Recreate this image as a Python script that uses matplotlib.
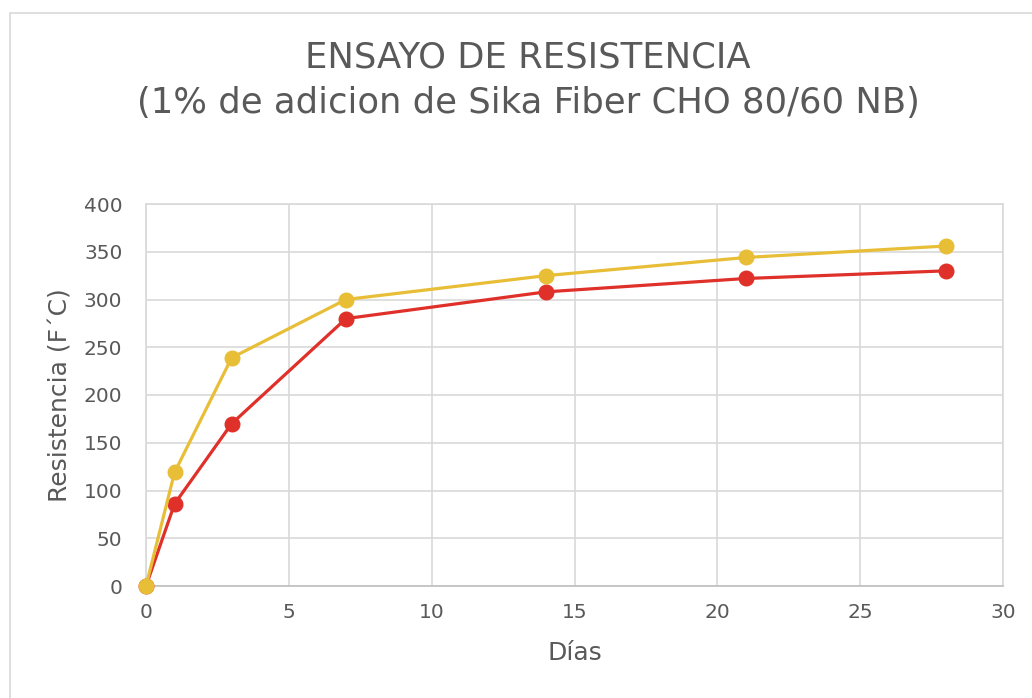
import matplotlib.pyplot as plt
from matplotlib.patches import Rectangle

plt.rcParams['font.family'] = ['DejaVu Sans']

dias = [0, 1, 3, 7, 14, 21, 28]
resistencia_a = [0, 119, 239, 300, 325, 344, 356]
resistencia_b = [0, 86, 170, 280, 308, 322, 330]

gris = '#595959'

fig = plt.figure(figsize=(10.32, 6.98), dpi=100)
ax = fig.add_axes([146/1032, 1 - 586/698, (1003-146)/1032, (586-204)/698])

# marco exterior del grafico
fig.patches.append(Rectangle((10/1032, -0.1), 1.2, 1 - 13/698 + 0.1,
                             transform=fig.transFigure, fill=False,
                             edgecolor='#D9D9D9', linewidth=1.2))

ax.plot(dias, resistencia_b, color='#E0302A', lw=2.3, marker='o', ms=10.5,
        zorder=3, clip_on=False)
ax.plot(dias, resistencia_a, color='#E8BE37', lw=2.3, marker='o', ms=10.5,
        zorder=4, clip_on=False)

ax.set_xlim(0, 30)
ax.set_ylim(0, 400)
ax.set_xticks(range(0, 31, 5))
ax.set_yticks(range(0, 401, 50))
ax.grid(True, color='#D9D9D9', lw=1.2)
ax.set_axisbelow(True)
for s in ['top', 'right', 'left']:
    ax.spines[s].set_color('#D9D9D9')
    ax.spines[s].set_linewidth(1.2)
ax.spines['bottom'].set_color('#BFBFBF')
ax.spines['bottom'].set_linewidth(1.2)
ax.tick_params(length=0, labelsize=14.5, colors=gris)
ax.tick_params(axis='y', pad=17)
ax.tick_params(axis='x', pad=12)

ax.set_xlabel('Días', fontsize=18, color=gris, labelpad=14)
ax.set_ylabel('Resistencia (F´C)', fontsize=18, color=gris, labelpad=8)

fig.text(528/1032, 1 - 58/698, 'ENSAYO DE RESISTENCIA', ha='center', va='center',
         fontsize=25.5, color=gris)
fig.text(528/1032, 1 - 103/698, '(1% de adicion de Sika Fiber CHO 80/60 NB)',
         ha='center', va='center', fontsize=25.5, color=gris)

fig.savefig('out.png', dpi=100)
